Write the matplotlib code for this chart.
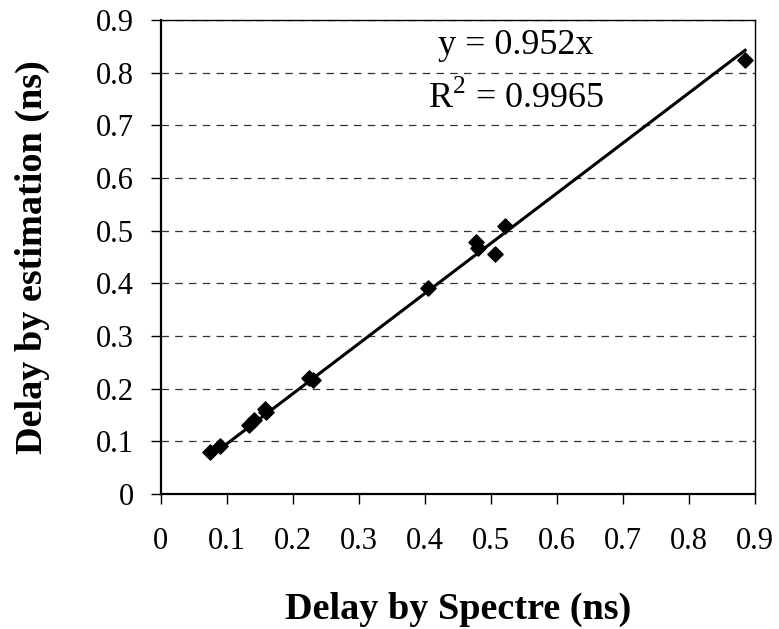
import numpy as np
import matplotlib.pyplot as plt

# delay values (ns)
spectre = [0.074, 0.090, 0.134, 0.142, 0.158, 0.160, 0.225, 0.230,
           0.405, 0.478, 0.480, 0.507, 0.521, 0.885]
estimation = [0.079, 0.091, 0.131, 0.140, 0.162, 0.156, 0.221, 0.217,
              0.391, 0.479, 0.467, 0.455, 0.509, 0.824]
slope = 0.952
r2 = 0.9965
ticks = [0, 0.1, 0.2, 0.3, 0.4, 0.5, 0.6, 0.7, 0.8, 0.9]

plt.rcParams['font.family'] = ['Liberation Serif', 'DejaVu Serif']
plt.rcParams['mathtext.fontset'] = 'custom'
plt.rcParams['mathtext.rm'] = 'Liberation Serif'

fig = plt.figure(figsize=(7.79, 6.29), dpi=100)
ax = fig.add_axes([0.2063, 0.2146, 0.7629, 0.7536])

fit_x = np.array([min(spectre), max(spectre)])
ax.plot(fit_x, slope * fit_x, color='black', lw=2.2, zorder=3)
ax.scatter(spectre, estimation, marker='D', s=60, color='black', zorder=4)

ax.set_xlim(0, 0.9)
ax.set_ylim(0, 0.9)
ax.set_xticks(ticks)
ax.set_yticks(ticks)
ax.set_xticklabels([f'{t:g}' for t in ticks])
ax.set_yticklabels([f'{t:g}' for t in ticks])
ax.tick_params(direction='out', length=7.5, width=1, labelsize=22)
ax.tick_params(axis='x', pad=16)
ax.tick_params(axis='y', pad=12)
ax.yaxis.grid(True, linestyle=(0, (6, 5)), color='#333333', lw=0.9)

for side in ['left', 'bottom']:
    ax.spines[side].set_linewidth(1.6)
for side in ['top', 'right']:
    ax.spines[side].set_linewidth(1.0)

ax.set_xlabel('Delay by Spectre (ns)', fontsize=27.5, fontweight='bold', labelpad=26)
ax.set_ylabel('Delay by estimation (ns)', fontsize=27.5, fontweight='bold', labelpad=33)

ax.text(0.538, 0.852, f'y = {slope}x', fontsize=26, ha='center', va='center')
ax.text(0.538, 0.752, f'R$^{{2}}$ = {r2}', fontsize=26, ha='center', va='center')

fig.savefig('out.png', dpi=100)
